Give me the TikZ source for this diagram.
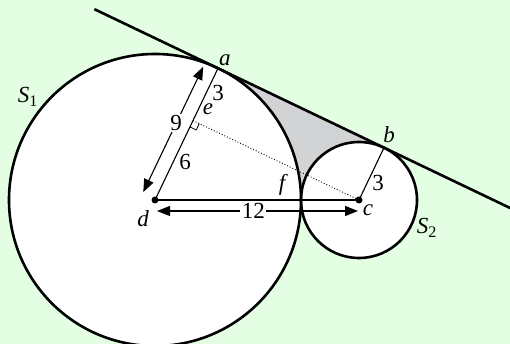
\documentclass[tikz,border=0pt]{standalone}
\usepackage{fontspec}
\setmainfont{Liberation Serif}
\usetikzlibrary{calc, arrows.meta}

\definecolor{bggreen}{RGB}{227,254,227}
\definecolor{shadegray}{RGB}{209,211,212}

\tikzset{
  thickline/.style={line width=2.6pt},
  thinline/.style={line width=1.1pt},
  dimarrow/.style={line width=1.1pt, {Triangle[length=13pt,width=10pt]}-{Triangle[length=13pt,width=10pt]}},
  lbl/.style={font=\fontsize{23}{26}\selectfont\itshape, inner sep=0pt},
  num/.style={font=\fontsize{23}{26}\selectfont, inner sep=1.5pt},
  dot/.style={circle, fill=black, inner sep=0pt, minimum size=7pt},
}

\begin{document}
\begin{tikzpicture}[x=1pt, y=1pt]

        % Background
        \fill[bggreen] (0,0) rectangle (510,344);
        \useasboundingbox (0,0) rectangle (510,344);

        % Centres, tangent points and foot of perpendicular
        \coordinate (d) at (155,144);
        \coordinate (c) at (359,144);
        \coordinate (f) at (301,144);
        \coordinate (a) at ($(d)+(64.44:146pt)$);
        \coordinate (b) at ($(c)+(64.44:58pt)$);
        \coordinate (e) at ($(d)+(64.44:88pt)$);
        \coordinate (tstart) at ($(a)+(154.44:137pt)$);
        \coordinate (tend) at ($(a)+(-25.56:324pt)$);

        % Circles and shaded gap
        \fill[white] (d) circle[radius=146pt] (c) circle[radius=58pt];
        \fill[shadegray] (a) -- (b) arc[start angle=64.44, end angle=180, radius=58pt]
            arc[start angle=0, end angle=64.44, radius=146pt] -- cycle;
        \draw[thickline] (d) circle[radius=146pt];
        \draw[thickline] (c) circle[radius=58pt];

        % Common tangent
        \draw[thickline] (tstart) -- (tend);

        % Radii and centre line
        \draw[thinline] (d) -- (a);
        \draw[thinline] (d) -- (c);
        \draw[thinline] (c) -- (b);
        \draw[dotted, line width=0.9pt] (e) -- (c);

        % Right angle at e
        \coordinate (ra1) at ($(e)!7pt!(c)$);
        \coordinate (ra2) at ($(e)!7pt!(d)$);
        \draw[line width=0.8pt] (ra1) -- ($(ra1)+(ra2)-(e)$) -- (ra2);

        % Centre dots
        \node[dot] (dotd) at (d) {};
        \node[dot] (dotc) at (c) {};

        % Dimension arrows
        \coordinate (nine1) at ($(d)+(154.44:14pt)+(64.44:2pt)$);
        \coordinate (nine2) at ($(a)+(154.44:14pt)+(244.44:5pt)$);
        \draw[dimarrow] (nine1) -- (nine2) node[num, fill=white, pos=0.55] (nine) {9};
        \coordinate (twelve1) at ($(d)+(2,-11)$);
        \coordinate (twelve2) at ($(c)+(-1,-11)$);
        \draw[dimarrow] (twelve1) -- (twelve2) node[num, fill=white, pos=0.48] (twelve) {12};

        % Point labels
        \node[lbl] (la) at ($(a)+(7,8)$) {a};
        \node[lbl] (lb) at ($(b)+(5,13)$) {b};
        \node[lbl] (lc) at ($(c)+(9,-10)$) {c};
        \node[lbl] (ld) at ($(d)+(-12,-19)$) {d};
        \node[lbl] (le) at ($(e)+(15,11)$) {e};
        \node[lbl] (lf) at ($(f)+(-19,15)$) {f};

        % Lengths
        \node[num] (ae) at (218,251) {3};
        \node[num] (ed) at (185,182) {6};
        \node[num] (cb) at (378,161) {3};

        % Circle names
        \node[lbl] (sone) at (28,247) {S\textsubscript{\upshape 1}};
        \node[lbl] (stwo) at (427,116) {S\textsubscript{\upshape 2}};

\end{tikzpicture}
\end{document}
